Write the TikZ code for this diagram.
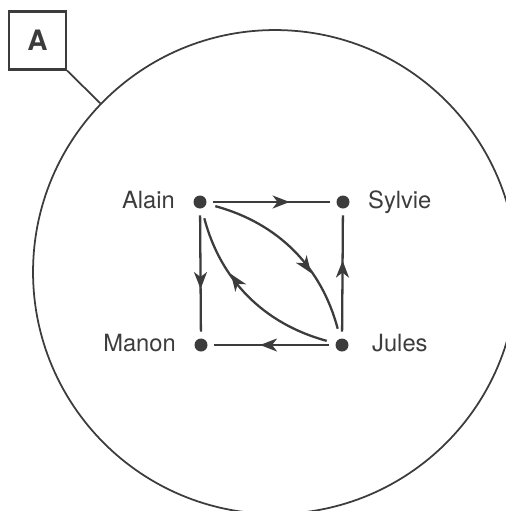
\documentclass[tikz,border=0pt]{standalone}
\usepackage{fontspec}
\setmainfont{TeX Gyre Heros}
\usetikzlibrary{arrows.meta, positioning, decorations.markings}
\definecolor{ink}{HTML}{3C3C3C}

\begin{document}
\begin{tikzpicture}[
            x=0.02cm, y=-0.02cm,
            person/.style={circle, fill=ink, inner sep=0pt, minimum size=0.26cm},
            prenom/.style={font=\fontsize{13.5}{16}\selectfont, text=ink, inner sep=0pt, text height=1.6ex, text depth=0.2ex},
            groupe/.style={circle, draw=ink, line width=1pt, inner sep=0pt, minimum size=9.68cm},
            etiquette/.style={draw=ink, line width=1.2pt, minimum width=1.14cm, minimum height=1.16cm, font=\bfseries\fontsize{16}{18}\selectfont, text=ink},
            link/.style={ink, line width=1.3pt, shorten <=0.13cm, shorten >=0.13cm},
            midarrow/.style={postaction={decorate}, decoration={markings,
                mark=at position #1 with {\arrow{Stealth[length=0.34cm, width=0.26cm, inset=0.1cm]}}}}
        ]
            \useasboundingbox (0,0) rectangle (506,511);
            \clip (0,0) rectangle (506,511);

            % the group and its tag
            \node[groupe] (cercle) at (275,272) {};
            \node[etiquette] (lettre) at (37.5,40.5) {A};
            \draw[ink, line width=1pt] (lettre.south east) -- (cercle.136);

            % people
            \node[person] (alain) at (200,202) {};
            \node[person] (sylvie) at (343,202) {};
            \node[person] (manon) at (201,345) {};
            \node[person] (jules) at (342,345) {};

            \node[prenom, left=0.36cm of alain] (nalain) {Alain};
            \node[prenom, right=0.36cm of sylvie] (nsylvie) {Sylvie};
            \node[prenom, left=0.36cm of manon] (nmanon) {Manon};
            \node[prenom, right=0.46cm of jules] (njules) {Jules};

            % choices
            \draw[link, midarrow=0.64] (alain) -- (sylvie);
            \draw[link, midarrow=0.62] (alain) -- (manon);
            \draw[link, midarrow=0.6] (jules) -- (sylvie);
            \draw[link, midarrow=0.59] (jules) -- (manon);
            \draw[link, shorten <=0.18cm, shorten >=0.2cm, midarrow=0.64] (alain) to[bend left=30] (jules);
            \draw[link, shorten <=0.18cm, shorten >=0.2cm, midarrow=0.64] (jules) to[bend left=30] (alain);
        \end{tikzpicture}
\end{document}
